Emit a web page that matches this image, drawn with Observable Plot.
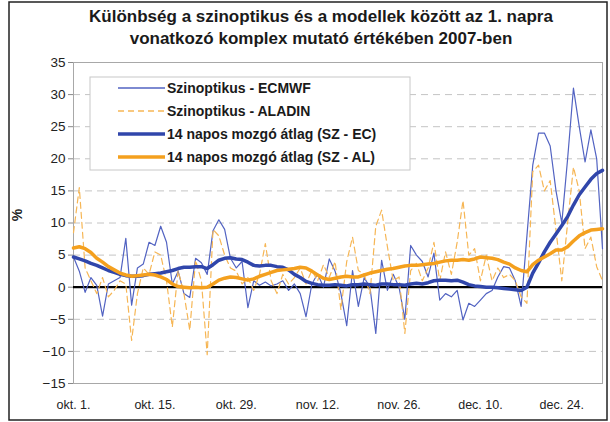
<!DOCTYPE html>
<html>
<head>
<meta charset="utf-8">
<script src="https://cdn.jsdelivr.net/npm/d3@7"></script>
<script src="https://cdn.jsdelivr.net/npm/@observablehq/plot@0.6"></script>
<style>
  html, body { margin: 0; padding: 0; background: #fff; }
</style>
</head>
<body>
<div id="chart"></div>
<script>
// ---- data ----
const startDate = "2007-10-01";
const endDate = "2008-01-01"; // exclusive

const titleLines = [
  "Különbség a szinoptikus és a modellek között az 1. napra",
  "vonatkozó komplex mutató értékében 2007-ben"
];
const seriesNames = [
  "Szinoptikus - ECMWF",
  "Szinoptikus - ALADIN",
  "14 napos mozgó átlag (SZ - EC)",
  "14 napos mozgó átlag (SZ - AL)"
];
const xTickDates = ["2007-10-01","2007-10-15","2007-10-29","2007-11-12","2007-11-26","2007-12-10","2007-12-24"];
const xTickLabels = ["okt. 1.","okt. 15.","okt. 29.","nov. 12.","nov. 26.","dec. 10.","dec. 24."];
const yTicks = [-15,-10,-5,0,5,10,15,20,25,30,35];
const yGrid = [-10,-5,5,10,15,20,25,30];

const ecmwf = [
  4.7, 2.5, -0.8, 1.5, 0.3, -4.5, 0.5, 1.0, 1.5, 7.6,
  -2.8, 3.0, 3.6, 7.0, 6.5, 9.5, 7.0, 0.5, 2.5, -1.0,
  -1.6, 4.5, 3.8, 2.0, 8.8, 10.5, 9.0, 4.5, 3.0, 4.0,
  -3.2, 1.0, 0.3, 0.8, 0.2, 0.5, 1.0, -0.5, 0.5, -1.0,
  -4.6, 0.5, 2.1, 0.0, 4.4, 2.5, -1.0, -6.0, 2.6, -3.0,
  1.5, 0.0, -7.2, 4.2, -0.5, 2.0, 0.0, -5.0, 6.5, 5.0,
  4.0, 1.6, 5.3, -2.0, -1.0, -1.5, -0.5, -5.1, -2.5, -3.0,
  -2.0, -1.0, -0.5, 1.6, 3.2, 3.0, 1.0, -3.0, 8.0, 19.0,
  24.0, 24.0, 22.0, 15.0, 10.0, 20.0, 31.0, 25.0, 19.5, 24.5,
  20.0, 6.0
];
const aladin = [
  8.5, 15.5, 3.0, 1.0, -1.0, 1.5, -1.5, -0.5, 1.0, 0.5,
  -8.3, -1.0, 3.0, 2.0, 5.5, 5.0, 1.0, -6.2, 2.6, -1.0,
  -6.7, 4.2, 1.0, -10.5, 9.0, 8.0, 5.0, 3.0, 2.5, 0.5,
  1.5, -0.5, 2.0, 6.8, 1.0, -1.0, 2.0, 0.5, 1.5, 3.0,
  0.5, 2.6, 1.0, 3.5, 1.5, 4.0, -3.5, 4.0, 7.8, 2.6,
  2.0, -1.0, 9.5, 12.0, 6.3, 1.0, 1.6, -7.2, 2.6, 3.7,
  1.0, 3.0, 7.0, 1.0, 5.5, 2.0, 7.0, 13.5, 5.0, 6.0,
  1.0, 5.0, 1.0, 3.0, 1.5, 2.0, 1.0, -1.5, -2.5, 18.0,
  19.0, 15.0, 16.6, 8.9, 1.0, 10.0, 18.7, 15.0, 6.0, 7.8,
  3.2, 1.0
];
const maEc = [
  4.7, 4.4, 4.1, 3.7, 3.4, 3.0, 2.6, 2.3, 2.0, 1.8,
  1.7, 1.7, 1.8, 2.0, 2.1, 2.2, 2.4, 2.6, 2.9, 3.1,
  3.1, 3.2, 3.2, 2.9, 3.5, 4.2, 4.5, 4.6, 4.4, 4.3,
  3.9, 3.4, 3.3, 3.4, 3.4, 3.2, 3.1, 2.7, 2.0, 1.5,
  0.9, 0.6, 0.4, 0.3, 0.3, 0.4, 0.3, 0.2, 0.4, 0.4,
  0.5, 0.4, 0.3, 0.5, 0.5, 0.4, 0.4, 0.3, 0.5, 0.6,
  0.5, 0.7, 1.0, 1.1, 1.1, 1.0, 1.1, 0.8, 0.4, 0.2,
  0.1, 0.0, 0.0, -0.1, -0.2, -0.3, -0.4, -0.5, 0.0, 2.2,
  3.8, 5.5, 7.0, 8.3, 9.6, 11.0, 12.8, 14.4, 15.6, 16.8,
  17.7, 18.2
];
const maAl = [
  6.1, 6.3, 6.0, 5.4, 4.5, 3.9, 3.2, 2.7, 2.2, 1.9,
  1.7, 1.8, 1.9, 2.0, 1.9, 1.6, 1.2, 0.5, 0.1, 0.0,
  -0.1, 0.0, -0.1, 0.0, 0.5, 1.1, 1.4, 1.6, 1.5, 1.3,
  1.1, 1.3, 1.7, 2.0, 2.3, 2.6, 2.7, 2.8, 2.9, 3.1,
  3.0, 2.5, 1.9, 1.4, 1.2, 1.4, 1.6, 1.7, 1.6, 1.6,
  1.9, 2.2, 2.4, 2.6, 2.8, 2.9, 3.1, 3.3, 3.4, 3.4,
  3.5, 3.6, 3.7, 3.9, 4.1, 4.2, 4.2, 4.3, 4.2, 4.4,
  4.7, 4.6, 4.5, 4.3, 3.9, 3.6, 3.0, 2.6, 2.4, 3.5,
  4.2, 4.7, 5.2, 5.8, 5.8, 6.3, 7.2, 8.0, 8.5, 8.9,
  9.0, 9.1
];

// ---- build table ----
const dates = d3.utcDay.range(new Date(startDate), new Date(endDate));
const rows = dates.map((date, i) => ({date, ec: ecmwf[i], al: aladin[i], maEc: maEc[i], maAl: maAl[i]}));
const tickDates = xTickDates.map(s => new Date(s));
const labelMap = new Map(tickDates.map((d, i) => [+d, xTickLabels[i]]));

const colors = {ec: "#5263c2", al: "#f6b655", maEc: "#3046ab", maAl: "#f4a01e"};
const FONT = "'Liberation Sans', Arial, Helvetica, sans-serif";

const chart = Plot.plot({
  width: 610,
  height: 422,
  marginLeft: 73,
  marginRight: 8,
  marginTop: 62,
  marginBottom: 39,
  style: {fontFamily: FONT, fontSize: "13px", color: "#222", background: "#fff", overflow: "visible"},
  x: {type: "utc", domain: [dates[0], dates[dates.length - 1]]},
  y: {domain: [-15, 35]},
  marks: [
    Plot.ruleY(yGrid, {stroke: "#c4c4c4", strokeWidth: 1, strokeDasharray: "7,5"}),
    Plot.frame({stroke: "#a8a8a8", strokeWidth: 1}),
    Plot.axisY({ticks: yTicks, tickSize: 5, tickPadding: 3, label: null, stroke: "#888", fontSize: 13.5}),
    Plot.axisX({ticks: tickDates, tickFormat: d => labelMap.get(+d), tickSize: 0, tickPadding: 17, label: null, fontSize: 12.5}),
    Plot.ruleY([0], {stroke: "#000", strokeWidth: 2.2}),
    Plot.line(rows, {x: "date", y: "ec", stroke: colors.ec, strokeWidth: 1.2}),
    Plot.line(rows, {x: "date", y: "al", stroke: colors.al, strokeWidth: 1.2, strokeDasharray: "6,4"}),
    Plot.line(rows, {x: "date", y: "maEc", stroke: colors.maEc, strokeWidth: 3.5}),
    Plot.line(rows, {x: "date", y: "maAl", stroke: colors.maAl, strokeWidth: 3.5})
  ]
});

document.getElementById("chart").appendChild(chart);

// ---- decorations: title, y label, legend, outer frame ----
const svg = d3.select(chart);

svg.append("rect")
  .attr("x", 9).attr("y", 2).attr("width", 598).attr("height", 418)
  .attr("fill", "none").attr("stroke", "#222").attr("stroke-width", 1.5);

const title = svg.append("g").attr("font-family", FONT).attr("font-weight", "bold")
  .attr("font-size", 17).attr("fill", "#1a1a1a").attr("text-anchor", "middle");
titleLines.forEach((t, i) => {
  title.append("text").attr("x", 321).attr("y", 22 + i * 22).text(t);
});

svg.append("text")
  .attr("transform", "translate(22,215) rotate(-90)")
  .attr("text-anchor", "middle")
  .attr("font-family", FONT).attr("font-size", 14).attr("font-weight", "bold").attr("fill", "#222")
  .text("%");

const lg = svg.append("g").attr("text-anchor", "start");
lg.append("rect").attr("x", 90).attr("y", 77).attr("width", 320).attr("height", 93)
  .attr("fill", "#fff").attr("stroke", "#c8c8c8").attr("stroke-width", 1);
const legendStyles = [
  {c: colors.ec, w: 1.3, dash: null},
  {c: colors.al, w: 1.3, dash: "6,4"},
  {c: colors.maEc, w: 3.5, dash: null},
  {c: colors.maAl, w: 3.5, dash: null}
];
seriesNames.forEach((name, i) => {
  const y = 88 + i * 23;
  const s = legendStyles[i];
  const ln = lg.append("line").attr("x1", 118).attr("x2", 165).attr("y1", y).attr("y2", y)
    .attr("stroke", s.c).attr("stroke-width", s.w);
  if (s.dash) ln.attr("stroke-dasharray", s.dash);
  lg.append("text").attr("x", 167).attr("y", y + 5)
    .attr("text-anchor", "start")
    .attr("font-family", FONT).attr("font-weight", "bold").attr("font-size", 14).attr("fill", "#1a1a1a")
    .text(name);
});
</script>
</body>
</html>
